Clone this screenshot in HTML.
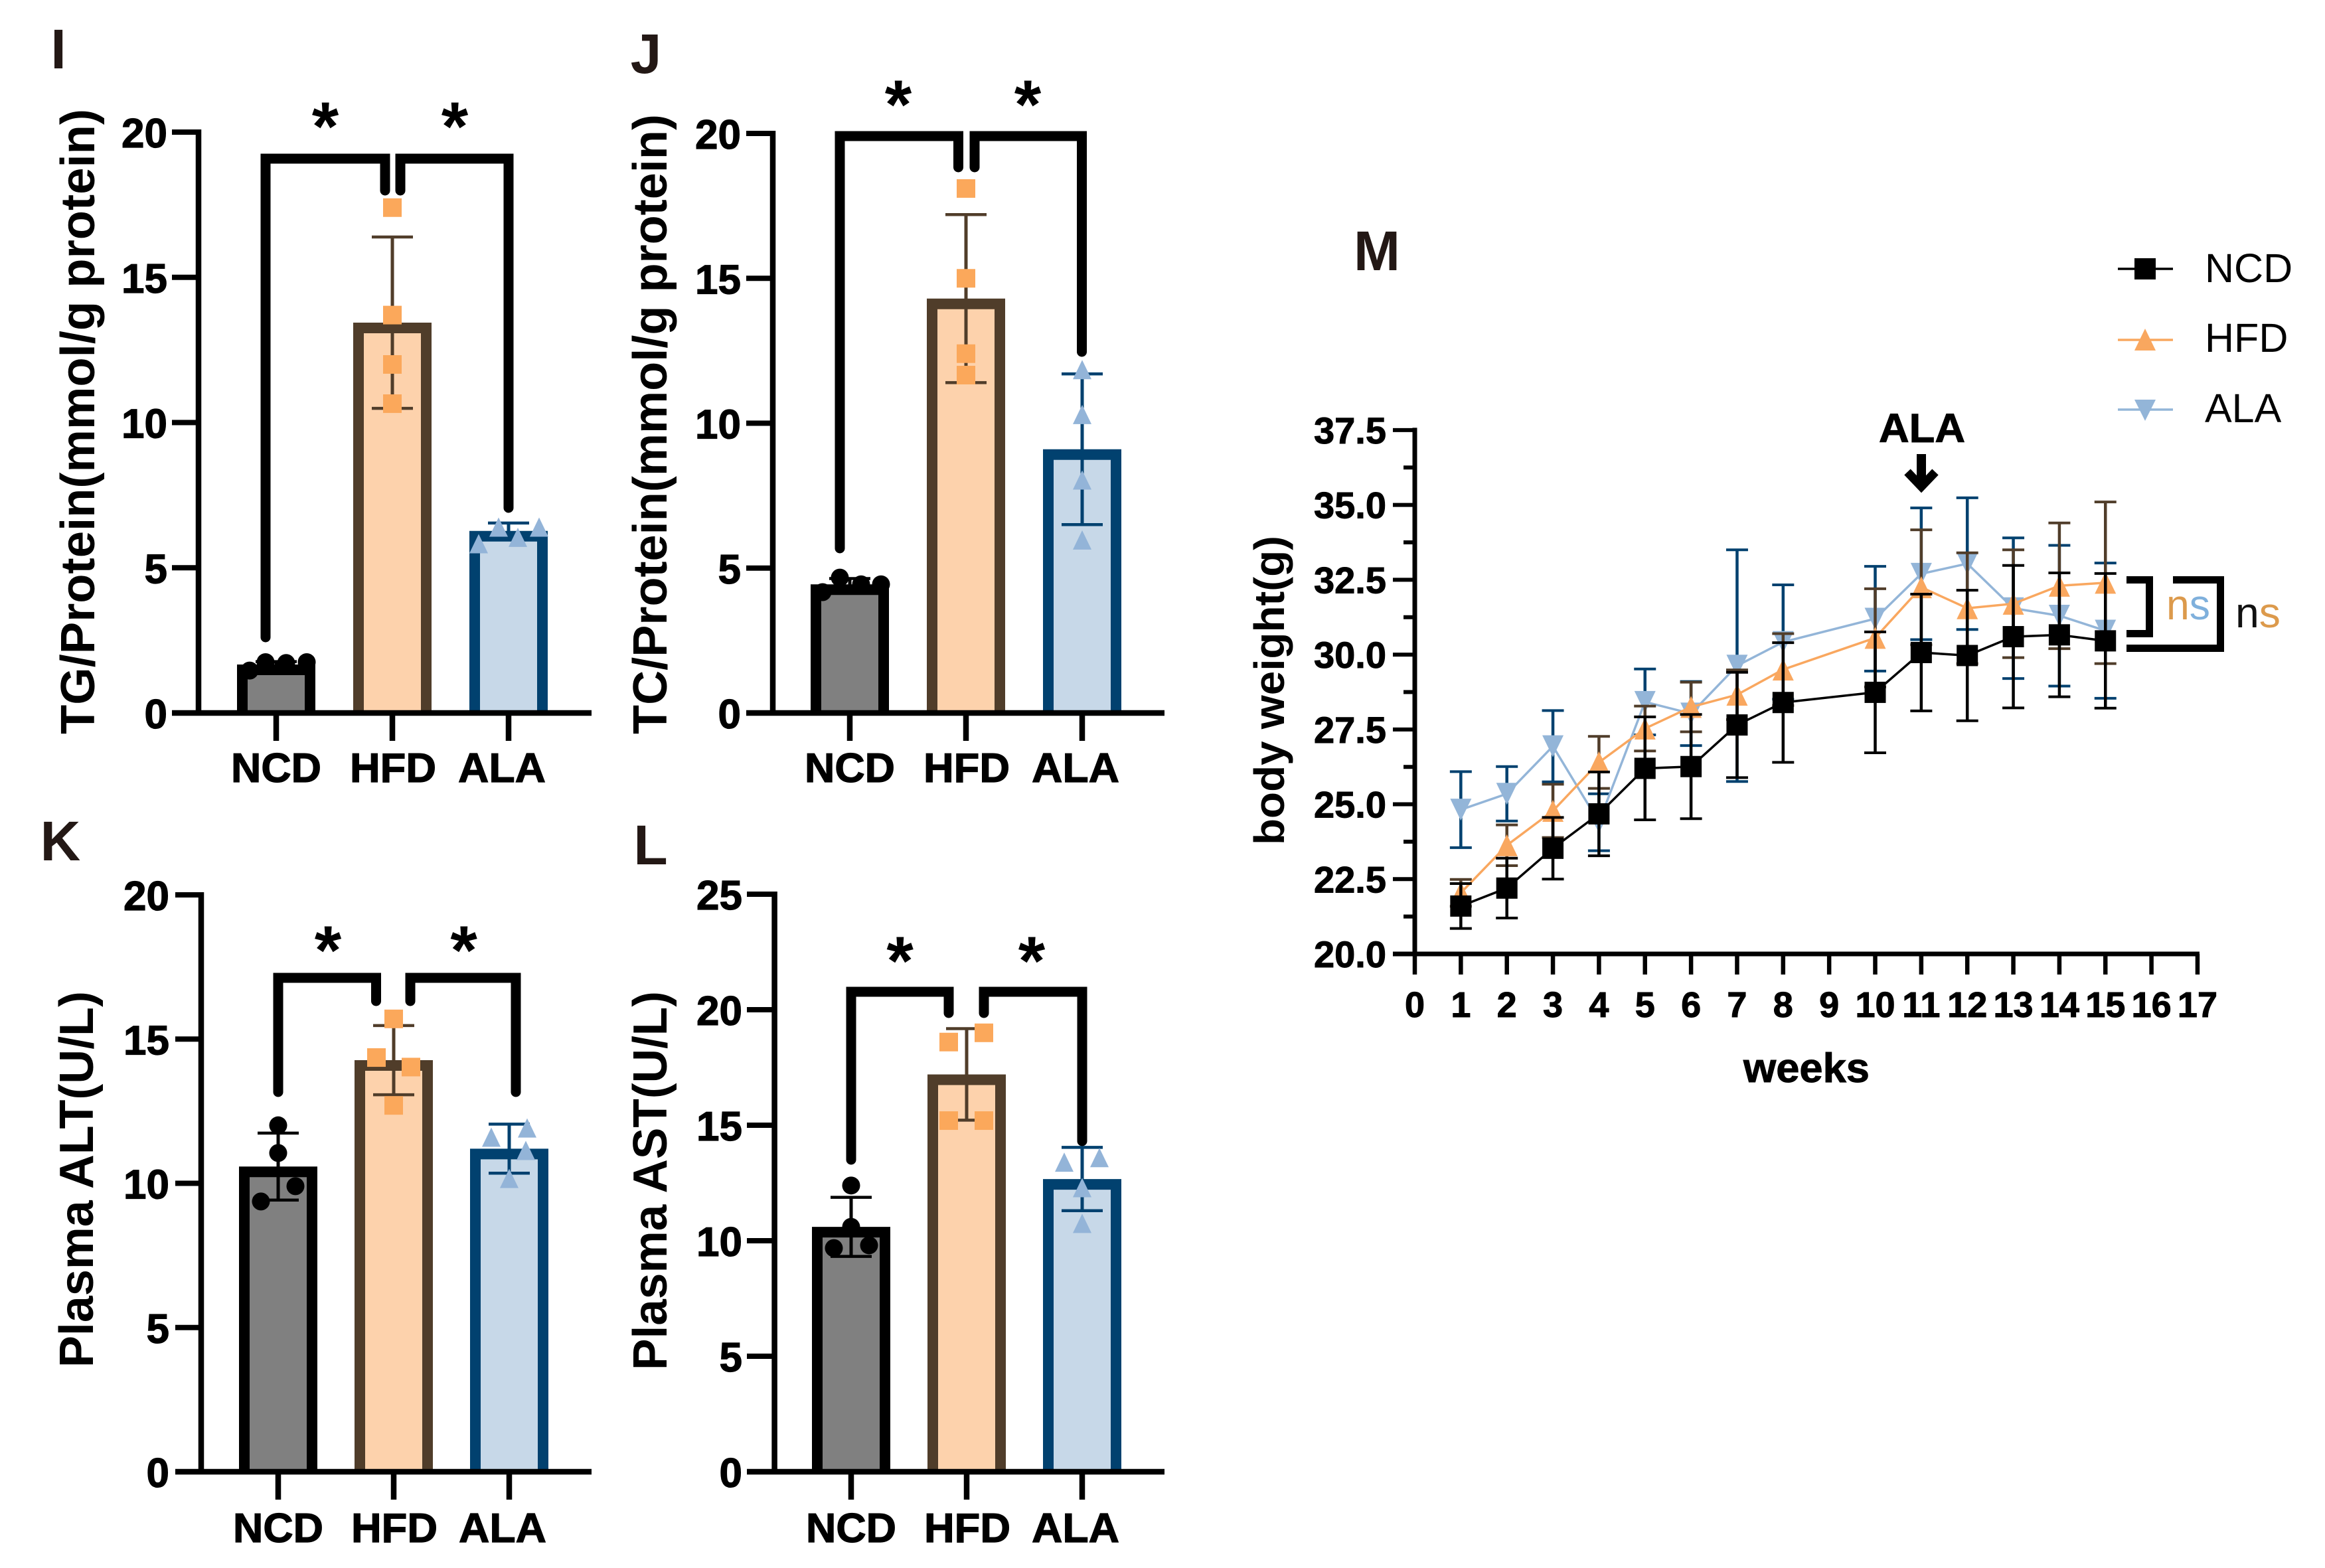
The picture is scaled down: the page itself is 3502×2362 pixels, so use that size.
<!DOCTYPE html>
<html lang="en">
<head>
<meta charset="utf-8">
<title>Panels I-M: lipid, liver enzyme and body weight charts</title>
<style>
html,body{margin:0;padding:0;background:#fff;}
svg{display:block;font-family:"Liberation Sans",Arial,sans-serif;}
</style>
</head>
<body>
<svg id="fig" xmlns="http://www.w3.org/2000/svg" width="3502" height="2362" viewBox="0 0 3502 2362">
<rect x="0" y="0" width="3502" height="2362" fill="#fff"/>
<g id="chart-layer"></g>

<g font-weight="700" font-size="84" fill="#231815" text-anchor="middle">
<text x="88" y="103">I</text>
<text x="973" y="110">J</text>
<text x="91" y="1296">K</text>
<text x="980" y="1302">L</text>
<text x="2074" y="407">M</text>
</g>

<g font-weight="700" font-size="72" fill="#000">
<text transform="translate(142,1106) rotate(-90)" textLength="942" lengthAdjust="spacingAndGlyphs">TG/Protein(mmol/g protein)</text>
<text transform="translate(1004,1106) rotate(-90)" textLength="934" lengthAdjust="spacingAndGlyphs">TC/Protein(mmol/g protein)</text>
<text transform="translate(140,2060) rotate(-90)" textLength="567" lengthAdjust="spacingAndGlyphs">Plasma ALT(U/L)</text>
<text transform="translate(1004,2064) rotate(-90)" textLength="571" lengthAdjust="spacingAndGlyphs">Plasma AST(U/L)</text>
<text transform="translate(1934,1273) rotate(-90)" font-size="64" textLength="466" lengthAdjust="spacingAndGlyphs">body weight(g)</text>
</g>

<text x="2721" y="1630" font-size="62" font-weight="700" text-anchor="middle" stroke="#000" stroke-width="1" textLength="190" lengthAdjust="spacingAndGlyphs">weeks</text>

<g>
<text x="2895" y="666" font-size="61" font-weight="700" text-anchor="middle" stroke="#000" stroke-width="1" textLength="130" lengthAdjust="spacingAndGlyphs">ALA</text>
<line x1="2894" y1="684" x2="2894" y2="732" stroke="#000" stroke-width="14"/>
<polyline points="2873,711 2894,733 2915,711" fill="none" stroke="#000" stroke-width="13"/>
</g>

<g font-size="61" fill="#000">
<line x1="3190" y1="405" x2="3273" y2="405" stroke="#000" stroke-width="3.5"/>
<rect x="3215" y="389" width="32" height="32" fill="#000"/>
<text x="3321" y="425">NCD</text>
<line x1="3190" y1="512" x2="3273" y2="512" stroke="#F9A75F" stroke-width="3.5"/>
<polygon points="3231,495 3247,528 3215,528" fill="#F9A75F"/>
<text x="3321" y="530">HFD</text>
<line x1="3190" y1="617" x2="3273" y2="617" stroke="#93B5D8" stroke-width="3.5"/>
<polygon points="3215,602 3247,602 3231,634" fill="#93B5D8"/>
<text x="3321" y="636">ALA</text>
</g>

<g font-size="64">
<polyline points="3203,873.5 3237.5,873.5 3237.5,954.5 3203,954.5" fill="none" stroke="#000" stroke-width="11"/>
<polyline points="3273,873.5 3344.5,873.5 3344.5,976.5 3203,976.5" fill="none" stroke="#000" stroke-width="11"/>
<text x="3263" y="933" textLength="66" lengthAdjust="spacingAndGlyphs"><tspan fill="#DC9A4C">n</tspan><tspan fill="#7FB0DC">s</tspan></text>
<text x="3367" y="945" textLength="68" lengthAdjust="spacingAndGlyphs"><tspan fill="#111">n</tspan><tspan fill="#DC9A4C">s</tspan></text>
</g>
</svg>

<script>
// ---------- shared bar-chart data ----------
const categories = ['NCD', 'HFD', 'ALA'];

const tgTicks = [0, 5, 10, 15, 20];
const tgMeans = [1.67, 13.44, 6.27];
const tgSd = [0.1, 2.95, 0.27];
const tgPoints = [[1.46, 1.75, 1.72, 1.75], [17.4, 13.7, 12.0, 10.65], [5.83, 6.4, 6.05, 6.4]];

const tcTicks = [0, 5, 10, 15, 20];
const tcMeans = [4.44, 14.3, 9.1];
const tcSd = [0.2, 2.9, 2.6];
const tcPoints = [[4.17, 4.67, 4.44, 4.44], [18.1, 15.0, 12.4, 11.66], [11.85, 10.3, 8.04, 5.97]];

const altTicks = [0, 5, 10, 15, 20];
const altMeans = [10.58, 14.27, 11.2];
const altSd = [1.16, 1.2, 0.85];
const altPoints = [[12.01, 11.05, 9.9, 9.37], [15.7, 14.36, 14.03, 12.7], [11.6, 11.92, 11.14, 10.17]];

const astTicks = [0, 5, 10, 15, 20, 25];
const astMeans = [10.6, 17.2, 12.67];
const astSd = [1.28, 1.98, 1.37];
const astPoints = [[12.39, 10.6, 9.68, 9.8], [18.6, 19.0, 15.2, 15.2], [13.4, 13.6, 12.3, 10.75]];

// ---------- body-weight data ----------
const weekTicks = [0, 1, 2, 3, 4, 5, 6, 7, 8, 9, 10, 11, 12, 13, 14, 15, 16, 17];
const weightTicks = [20, 22.5, 25, 27.5, 30, 32.5, 35, 37.5];
const weeks = [1, 2, 3, 4, 5, 6, 7, 8, 10, 11, 12, 13, 14, 15];
const ncdWeight = [21.6, 22.2, 23.53, 24.68, 26.2, 26.26, 27.65, 28.4, 28.74, 30.07, 29.97, 30.6, 30.66, 30.46];
const ncdWeightSd = [0.75, 1.0, 1.03, 1.4, 1.72, 1.74, 1.76, 2.0, 2.02, 1.95, 2.18, 2.38, 2.07, 2.25];
const hfdWeight = [22.04, 23.63, 24.78, 26.4, 27.53, 28.25, 28.66, 29.5, 30.56, 32.25, 31.55, 31.7, 32.3, 32.4];
const hfdWeightSd = [0.45, 0.68, 0.89, 0.87, 0.75, 0.83, 0.83, 1.2, 1.64, 1.92, 1.85, 1.8, 2.1, 2.7];
const alaWeight = [24.82, 25.35, 26.94, 24.4, 28.42, 28.03, 29.63, 30.42, 31.2, 32.7, 33.04, 31.55, 31.3, 30.8];
const alaWeightSd = [1.27, 0.91, 1.19, 0.95, 1.1, 1.07, 3.87, 1.91, 1.75, 2.2, 2.2, 2.35, 2.35, 2.26];

// ---------- helpers ----------
const NS = 'http://www.w3.org/2000/svg';
const root = document.getElementById('chart-layer');

function mk(parent, tag, attrs) {
  const el = document.createElementNS(NS, tag);
  for (const k in attrs) el.setAttribute(k, attrs[k]);
  parent.appendChild(el);
  return el;
}
function label(el, name) {
  
  
  return el;
}
function vline(p, x, y1, y2, color, w, cap) {
  return mk(p, 'line', {x1: x, x2: x, y1: y1, y2: y2, stroke: color, 'stroke-width': w, 'stroke-linecap': cap || 'butt'});
}
function hline(p, y, x1, x2, color, w, cap) {
  return mk(p, 'line', {x1: x1, x2: x2, y1: y, y2: y, stroke: color, 'stroke-width': w, 'stroke-linecap': cap || 'butt'});
}
// dir = 1 points up, dir = -1 points down
function triangle(p, x, y, w, h, dir, color) {
  const a = y - dir * h / 2, b = y + dir * h / 2;
  return mk(p, 'polygon', {points: (x - w / 2) + ',' + b + ' ' + (x + w / 2) + ',' + b + ' ' + x + ',' + a, fill: color});
}

const fills = ['#808080', '#FDD2AC', '#C7D8E8'];
const strokes = ['#000000', '#503D2A', '#01416F'];
const markerColors = ['#000000', '#FBA85B', '#93B4D8'];
const catWidths = [136, 130, 132];

// ---------- bar panel ----------
function drawBarPanel(cfg) {
  const g = label(mk(root, 'g', {}), 'panel-' + cfg.id);
  const yScale = v => cfg.y0 + (cfg.yTop - cfg.y0) * v / cfg.yMax;
  const xScale = i => cfg.xFirst + i * cfg.xStep;
  const barW = 118, bw = 16;

  categories.forEach((cat, i) => {
    const cx = xScale(i), top = yScale(cfg.means[i]);
    const l = cx - barW / 2 + bw / 2, r = cx + barW / 2 - bw / 2, t = top + bw / 2;
    const barGroup = label(mk(g, 'g', {}), cfg.id + '-bar-' + cat.toLowerCase());
    mk(barGroup, 'rect', {x: l, y: t, width: r - l, height: Math.max(0, cfg.y0 - t), fill: fills[i]});
    mk(barGroup, 'path', {
      d: 'M' + l + ',' + cfg.y0 + ' L' + l + ',' + t + ' L' + r + ',' + t + ' L' + r + ',' + cfg.y0,
      fill: 'none', stroke: strokes[i], 'stroke-width': bw, 'stroke-linejoin': 'miter'
    });

    const err = label(mk(g, 'g', {}), cfg.id + '-error-bar-' + cat.toLowerCase());
    const hi = yScale(cfg.means[i] + cfg.sd[i]), lo = yScale(cfg.means[i] - cfg.sd[i]);
    vline(err, cx, hi, lo, strokes[i], 5);
    hline(err, hi, cx - 31, cx + 31, strokes[i], 4.5);
    hline(err, lo, cx - 31, cx + 31, strokes[i], 4.5);

    cfg.points[i].forEach((v, j) => {
      const px = cx + cfg.jitter[i][j], py = yScale(v);
      let m;
      if (i === 0) m = mk(g, 'circle', {cx: px, cy: py, r: 13.5, fill: markerColors[0]});
      if (i === 1) m = mk(g, 'rect', {x: px - 14, y: py - 14, width: 28, height: 28, fill: markerColors[1]});
      if (i === 2) m = triangle(g, px, py, 28, 29, 1, markerColors[2]);
      label(m, cfg.id + '-point-' + cat.toLowerCase());
    });
  });

  // significance brackets
  cfg.brackets.forEach((b, i) => {
    const br = mk(g, 'polyline', {
      points: b[0] + ',' + b[3] + ' ' + b[0] + ',' + b[2] + ' ' + b[1] + ',' + b[2] + ' ' + b[1] + ',' + b[4],
      fill: 'none', stroke: '#000', 'stroke-width': 15, 'stroke-linecap': 'round', 'stroke-linejoin': 'miter'
    });
    label(br, cfg.id + '-significance-bracket');
    const star = mk(g, 'text', {x: cfg.stars[i], y: cfg.starY + 46, 'font-size': 104, 'font-weight': 700, 'text-anchor': 'middle'});
    star.textContent = '*';
    label(star, cfg.id + '-significance-star');
  });

  // axes
  const ya = vline(g, cfg.xAxis, yScale(cfg.yMax) - 4, cfg.y0 + 4, '#000', 8.5);
  label(ya, cfg.id + '-y-axis');
  const xa = hline(g, cfg.y0, cfg.tickLeft, cfg.xEnd, '#000', 8.5);
  label(xa, cfg.id + '-x-axis');

  cfg.ticks.forEach(t => {
    const y = yScale(t);
    label(hline(g, y, cfg.tickLeft, cfg.xAxis, '#000', 8), cfg.id + '-y-tick');
    const tx = mk(g, 'text', {x: cfg.labelRight, y: y + 23, 'font-size': 62, 'font-weight': 700, 'text-anchor': 'end', stroke: '#000', 'stroke-width': 1.2});
    tx.textContent = t;
    label(tx, cfg.id + '-y-tick-label');
  });
  categories.forEach((cat, i) => {
    const cx = xScale(i);
    label(vline(g, cx, cfg.y0, cfg.y0 + 42, '#000', 8.5), cfg.id + '-x-tick');
    const tx = mk(g, 'text', {x: cx + [0, 1, -10][i], y: cfg.catBase, 'font-size': 62, 'font-weight': 700, 'text-anchor': 'middle', stroke: '#000', 'stroke-width': 1.2, textLength: catWidths[i], lengthAdjust: 'spacingAndGlyphs'});
    tx.textContent = cat;
    label(tx, cfg.id + '-x-tick-label-' + cat.toLowerCase());
  });
}

drawBarPanel({
  id: 'tg', means: tgMeans, sd: tgSd, points: tgPoints, ticks: tgTicks, yMax: 20,
  y0: 1074, yTop: 199, xAxis: 299, tickLeft: 259, xEnd: 891, labelRight: 252,
  xFirst: 416, xStep: 175, catBase: 1178,
  jitter: [[-40, -16, 15, 46], [0, 0, 0, 0], [-45, -15, 14, 46]],
  brackets: [[400, 580, 239, 960, 287], [766, 603, 239, 765, 287]],
  stars: [490, 685], starY: 180
});
drawBarPanel({
  id: 'tc', means: tcMeans, sd: tcSd, points: tcPoints, ticks: tcTicks, yMax: 20,
  y0: 1074, yTop: 201, xAxis: 1164, tickLeft: 1124, xEnd: 1754, labelRight: 1116,
  xFirst: 1280, xStep: 175, catBase: 1178,
  jitter: [[-41, -15, 17, 47], [0, 0, 0, 0], [0, 0, 0, 0]],
  brackets: [[1265, 1443.5, 205, 826, 252], [1629.5, 1468, 205, 530, 252]],
  stars: [1353, 1548], starY: 147
});
drawBarPanel({
  id: 'alt', means: altMeans, sd: altSd, points: altPoints, ticks: altTicks, yMax: 20,
  y0: 2217, yTop: 1348, xAxis: 303, tickLeft: 264, xEnd: 891, labelRight: 255,
  xFirst: 419, xStep: 174, catBase: 2323,
  jitter: [[0, 0, 26, -26], [0, -26, 26, 0], [-27, 27, 25, 0]],
  brackets: [[419, 566.5, 1473, 1645, 1508], [777, 618, 1473, 1645, 1508]],
  stars: [494, 698.6], starY: 1421
});
drawBarPanel({
  id: 'ast', means: astMeans, sd: astSd, points: astPoints, ticks: astTicks, yMax: 25,
  y0: 2217, yTop: 1347, xAxis: 1166.6, tickLeft: 1125, xEnd: 1754, labelRight: 1118,
  xFirst: 1282, xStep: 174, catBase: 2323,
  jitter: [[0, 0, -26, 27], [-27, 26, -27, 26], [-27, 26, 0, 0]],
  brackets: [[1282, 1429, 1494, 1747, 1526], [1630, 1482, 1494, 1719, 1526]],
  stars: [1355.6, 1554], starY: 1437
});

// ---------- body-weight panel ----------
(function drawWeightPanel() {
  const g = label(mk(root, 'g', {}), 'panel-body-weight');
  const xW = w => 2131 + 69.35 * w;
  const yW = v => 1437 - 45.09 * (v - 20);

  const series = [
    {name: 'ala', vals: alaWeight, sd: alaWeightSd, line: '#93B5D8', err: '#01416F'},
    {name: 'hfd', vals: hfdWeight, sd: hfdWeightSd, line: '#F9A75F', err: '#503D2A'},
    {name: 'ncd', vals: ncdWeight, sd: ncdWeightSd, line: '#000000', err: '#000000'}
  ];

  series.forEach(s => {
    const sg = label(mk(g, 'g', {}), 'series-' + s.name);
    s.vals.forEach((v, i) => {
      const x = xW(weeks[i]), hi = yW(v + s.sd[i]), lo = yW(v - s.sd[i]);
      const err = label(mk(sg, 'g', {}), s.name + '-error-bar');
      vline(err, x, hi, lo, s.err, 4.5);
      hline(err, hi, x - 16.5, x + 16.5, s.err, 4);
      hline(err, lo, x - 16.5, x + 16.5, s.err, 4);
    });
    const ln = mk(sg, 'polyline', {
      points: s.vals.map((v, i) => xW(weeks[i]) + ',' + yW(v)).join(' '),
      fill: 'none', stroke: s.line, 'stroke-width': 3.5
    });
    label(ln, s.name + '-line');
    s.vals.forEach((v, i) => {
      const x = xW(weeks[i]), y = yW(v);
      let m;
      if (s.name === 'ncd') m = mk(sg, 'rect', {x: x - 16, y: y - 16, width: 32, height: 32, fill: '#000'});
      if (s.name === 'hfd') m = triangle(sg, x, y, 32, 33, 1, s.line);
      if (s.name === 'ala') m = triangle(sg, x, y, 32, 33, -1, s.line);
      label(m, s.name + '-marker');
    });
  });

  label(vline(g, 2131, yW(37.5) - 3.5, 1440, '#000', 7), 'weight-y-axis');
  label(hline(g, 1437, 2098, xW(17) + 3, '#000', 7), 'weeks-x-axis');

  weightTicks.forEach((t, i) => {
    const y = yW(t);
    label(hline(g, y, 2098, 2131, '#000', 6), 'weight-y-tick');
    const tx = mk(g, 'text', {x: 2088, y: y + 20, 'font-size': 56, 'font-weight': 700, 'text-anchor': 'end', stroke: '#000', 'stroke-width': 1});
    tx.textContent = t.toFixed(1);
    label(tx, 'weight-y-tick-label');
    if (i < weightTicks.length - 1) {
      label(hline(g, yW((t + weightTicks[i + 1]) / 2), 2114, 2131, '#000', 6), 'weight-y-minor-tick');
    }
  });
  weekTicks.forEach(w => {
    const x = xW(w);
    label(vline(g, x, 1437, 1468, '#000', 6.5), 'weeks-x-tick');
    const tx = mk(g, 'text', {x: x, y: 1532, 'font-size': 54, 'font-weight': 700, 'text-anchor': 'middle', stroke: '#000', 'stroke-width': 1});
    tx.textContent = w;
    label(tx, 'weeks-x-tick-label');
  });
})();
</script>
</body>
</html>
